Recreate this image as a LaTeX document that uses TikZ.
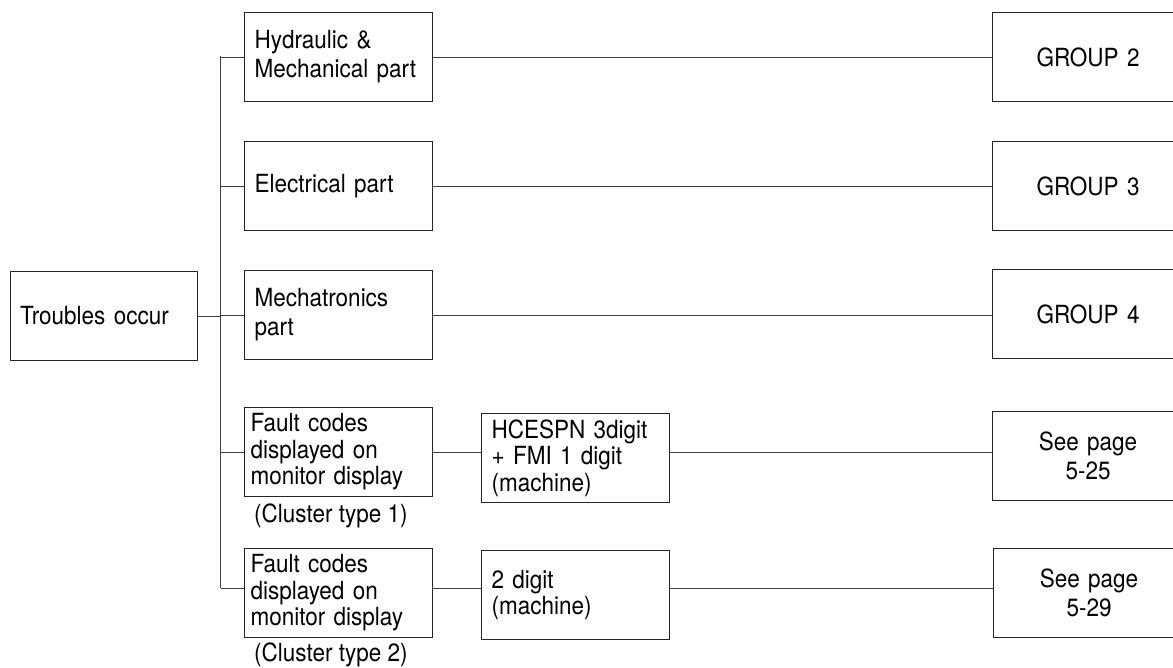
\documentclass[tikz,border=0pt]{standalone}
\usepackage{fontspec}
\setmainfont[FakeStretch=0.9]{TeX Gyre Heros}
\begin{document}
\begin{tikzpicture}[x=1pt,y=-1pt,
  box/.style={draw=black!85, line width=1.1pt, rectangle, inner ysep=0pt, inner xsep=9pt,
     minimum height=89pt, anchor=north west, font=\fontsize{25}{29}\selectfont},
  lbox/.style={box, minimum width=188pt, text width=168pt, align=left},
  fbox/.style={lbox, inner xsep=6pt, text width=176pt, font=\fontsize{25}{26.5}\selectfont},
  cbox/.style={box, minimum width=191pt, text width=171pt, align=center},
  conn/.style={draw=black!75, line width=0.9pt},
  lab/.style={anchor=west, inner sep=0pt, font=\fontsize{25}{26.5}\selectfont}]
\useasboundingbox (0,0) rectangle (1173,668);

\node[lbox, minimum width=187pt] (tr) at (10,271) {Troubles occur};

\node[lbox] (hm) at (244,12) {Hydraulic \&\\Mechanical part};
\node[lbox] (el) at (244,141) {Electrical part};
\node[lbox] (me) at (244,270) {Mechatronics\\part};
\node[fbox] (f1) at (244,407) {Fault codes\\displayed on\\monitor display};
\node[fbox] (f2) at (244,548) {Fault codes\\displayed on\\monitor display};
\node[lab] (c1) at (254,516) {(Cluster type 1)};
\node[lab] (c2) at (254,655) {(Cluster type 2)};

\node[lbox, font=\fontsize{25}{26.5}\selectfont] (hc) at (481,413) {HCESPN 3digit\\+ FMI 1 digit\\(machine)};
\node[lbox, font=\fontsize{25}{26.5}\selectfont] (dg) at (481,550) {2 digit\\(machine)};

\node[cbox] (g2) at (992,12) {GROUP 2};
\node[cbox] (g3) at (992,141) {GROUP 3};
\node[cbox] (g4) at (992,269) {GROUP 4};
\node[cbox] (s1) at (992,411) {See page\\5-25};
\node[cbox] (s2) at (993,548) {See page\\5-29};

\coordinate (ttop) at (220.5,56.5);
\coordinate (tbot) at (220.5,588);
\coordinate (yb) at (0,588);

\draw[conn] (ttop) -- (tbot);
\draw[conn] (tr.east) -- (tr.east -| ttop);
\draw[conn] (hm.west -| ttop) -- (hm.west);
\draw[conn] (el.west -| ttop) -- (el.west);
\draw[conn] (me.west -| ttop) -- (me.west);
\draw[conn] (f1.west -| ttop) -- (f1.west);
\draw[conn] (tbot) -- (f2.west |- yb);

\draw[conn] (hm.east) -- (g2.west);
\draw[conn] (el.east) -- (g3.west);
\draw[conn] (me.east) -- (me.east -| g4.west);
\draw[conn] (f1.east) -- (f1.east -| hc.west);
\draw[conn] (hc.east |- f1.east) -- (s1.west |- f1.east);
\draw[conn] (f2.east |- yb) -- (dg.west |- yb);
\draw[conn] (dg.east |- yb) -- (s2.west |- yb);
\end{tikzpicture}
\end{document}
